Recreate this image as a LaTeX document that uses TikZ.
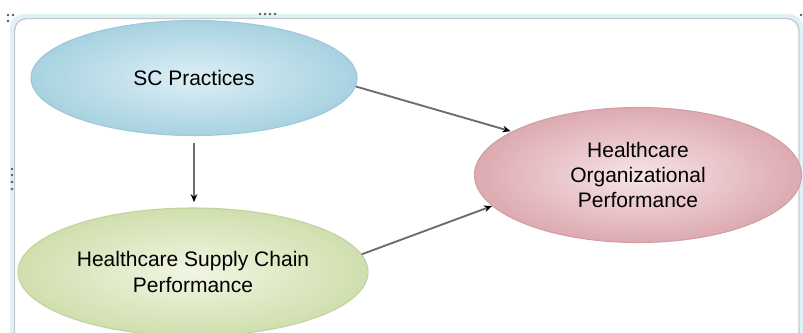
\documentclass[tikz,border=0pt]{standalone}
\usepackage{fontspec}
\setmainfont{Liberation Sans}
\usetikzlibrary{shapes.geometric, arrows.meta}
\definecolor{scin}{HTML}{DDEFF5}
\definecolor{scout}{HTML}{A8D2E1}
\definecolor{scedge}{HTML}{9CC8D7}
\definecolor{hsin}{HTML}{F1F6E3}
\definecolor{hsout}{HTML}{D0DFAE}
\definecolor{hsedge}{HTML}{C2D39E}
\definecolor{hoin}{HTML}{F6E4E7}
\definecolor{hoout}{HTML}{DDAAB1}
\definecolor{hoedge}{HTML}{D29DA5}
\definecolor{linegray}{HTML}{6C6C6C}
\definecolor{framegray}{HTML}{C6C9CA}
\definecolor{framecyan}{HTML}{DDF2F6}
\definecolor{handle}{HTML}{5A5A5A}
\tikzstyle{every node}=[font=\fontsize{15.75}{19.1}\selectfont]
\tikzstyle{bubble} = [ellipse, inner sep=0pt, align=center, text=black, line width=0.8pt]
\tikzstyle{arrow} = [line width=1.4pt, draw=linegray, -{Stealth[length=6pt,width=5pt,black]}]

\begin{document}
\begin{tikzpicture}[x=0.75pt, y=-0.75pt]
        \useasboundingbox (0,0) rectangle (803,332);
        \clip (0,0) rectangle (803,332);
        \fill [white] (0,0) rectangle (803,332);

        \draw [framecyan, line width=3pt, rounded corners=9pt] (12,16) rectangle (801,360);
        \draw [framegray, line width=1.1pt, rounded corners=9pt] (14.5,18.5) rectangle (799,360);

        \node (sc) [bubble, draw=scedge, inner color=scin, outer color=scout, minimum width=244.5pt, minimum height=86.25pt] at (194,78) {SC Practices};
        \node (hscp) [bubble, draw=hsedge, inner color=hsin, outer color=hsout, minimum width=262.5pt, minimum height=96pt] at (193,272) {Healthcare Supply Chain\\Performance};
        \node (hcop) [bubble, draw=hoedge, inner color=hoin, outer color=hoout, minimum width=245.25pt, minimum height=101.25pt] at (638,175) {Healthcare\\Organizational\\Performance};

        \draw [arrow, shorten <=5pt, shorten >=4pt] (sc.south) -- (sc.south |- hscp.north);
        \draw [arrow, shorten >=1pt] (sc.-3) -- (hcop.161);
        \draw [arrow] (hscp.6) -- (hcop.192);

        % selection handles
        \foreach \hx/\hy in {8/15, 13/15, 8/21, 260/14, 265/14, 270/14, 275/14, 12/169, 12/175, 12/182, 12/189, 801/15}
          \fill [handle] (\hx,\hy) circle (1pt);
\end{tikzpicture}
\end{document}
